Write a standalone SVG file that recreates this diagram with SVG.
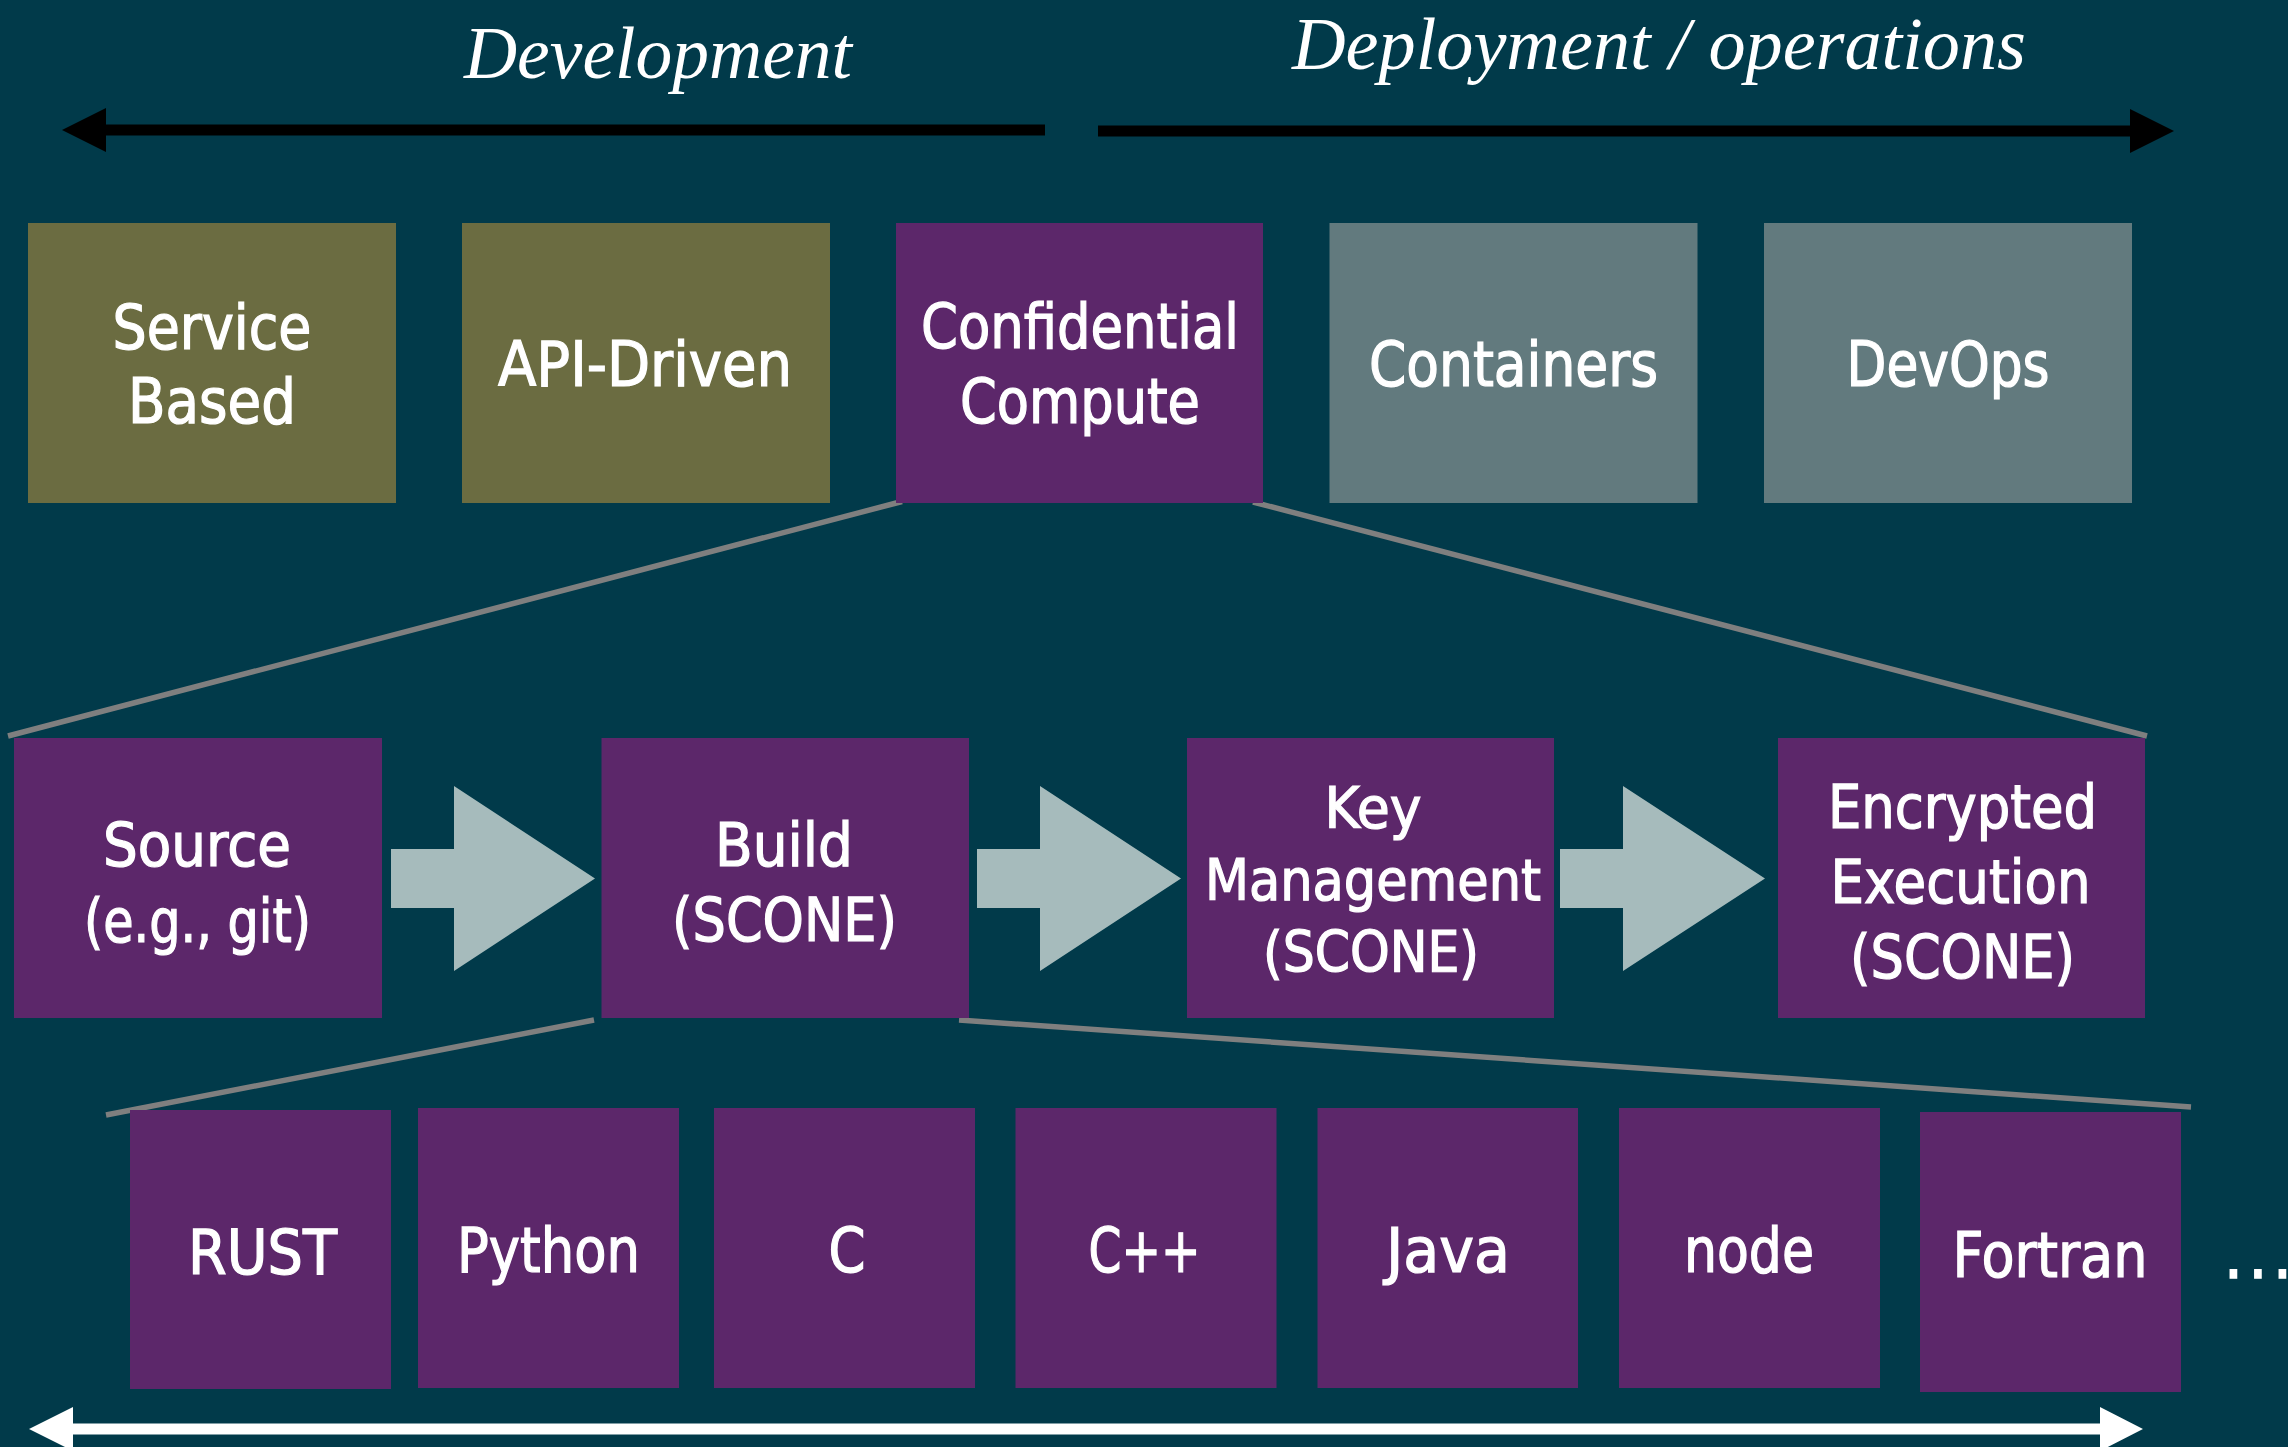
<svg xmlns="http://www.w3.org/2000/svg" width="2288" height="1447" viewBox="0 0 2288 1447">
<style>
  .bg{fill:#013a4a}
  .olive{fill:#6b6c41}
  .purple{fill:#5c276a}
  .grey{fill:#627a7e}
  .flow{fill:#a6bbbc}
  .lbl{font-family:"DejaVu Sans Condensed","DejaVu Sans",sans-serif;font-stretch:condensed;font-weight:normal;fill:#ffffff;stroke:#ffffff;stroke-width:1.2;text-anchor:middle}
  .s62{font-size:62px}
  .s61{font-size:61px}
  .s57{font-size:57px}
  .title{font-family:"Liberation Serif","Times New Roman",serif;font-style:italic;font-size:75px;fill:#ffffff}
  .conn{stroke:#7f7f7f;stroke-width:5.5;fill:none}
</style>
<rect class="bg" x="0" y="0" width="2288" height="1447"/>

<g id="phase-labels">
  <text class="title" x="464" y="78" textLength="388" lengthAdjust="spacingAndGlyphs">Development</text>
  <text class="title" x="1292" y="69" textLength="734" lengthAdjust="spacingAndGlyphs">Deployment / operations</text>
</g>

<g id="timeline-arrows">
  <polygon fill="#000000" points="1045,124.5 106,124.5 106,108 62,130 106,152 106,135.5 1045,135.5"/>
  <polygon fill="#000000" points="1098,125.5 2130,125.5 2130,109 2174,131 2130,153 2130,136.5 1098,136.5"/>
  <polygon fill="#ffffff" points="73,1423.5 2100,1423.5 2100,1407 2143,1429 2100,1451 2100,1434.5 73,1434.5 73,1451 29,1429 73,1407"/>
</g>

<g id="connectors">
  <line class="conn" x1="902" y1="501.5" x2="8" y2="736"/>
  <line class="conn" x1="1253" y1="502" x2="2147" y2="736"/>
  <line class="conn" x1="594" y1="1020" x2="106" y2="1115"/>
  <line class="conn" x1="959" y1="1020" x2="2191" y2="1107"/>
  <polygon class="flow" points="391,849 454,849 454,786 595,878.5 454,971 454,908 391,908"/>
  <polygon class="flow" points="977,849 1040,849 1040,786 1181,878.5 1040,971 1040,908 977,908"/>
  <polygon class="flow" points="1560,849 1623,849 1623,786 1765,878.5 1623,971 1623,908 1560,908"/>
</g>

<g id="node-service-based">
  <rect class="olive" x="28" y="223" width="368" height="280"/>
  <text class="lbl s62" x="212" y="349" textLength="199" lengthAdjust="spacingAndGlyphs">Service</text>
  <text class="lbl s62" x="212" y="423" textLength="168" lengthAdjust="spacingAndGlyphs">Based</text>
</g>
<g id="node-api-driven">
  <rect class="olive" x="462" y="223" width="368" height="280"/>
  <text class="lbl s62" x="645" y="386" textLength="294" lengthAdjust="spacingAndGlyphs">API-Driven</text>
</g>
<g id="node-confidential-compute">
  <rect class="purple" x="896" y="223" width="367" height="280"/>
  <text class="lbl s62" x="1080" y="348" textLength="318" lengthAdjust="spacingAndGlyphs">Confidential</text>
  <text class="lbl s62" x="1080" y="423" textLength="240" lengthAdjust="spacingAndGlyphs">Compute</text>
</g>
<g id="node-containers">
  <rect class="grey" x="1329.5" y="223" width="368" height="280"/>
  <text class="lbl s62" x="1513.5" y="386" textLength="289" lengthAdjust="spacingAndGlyphs">Containers</text>
</g>
<g id="node-devops">
  <rect class="grey" x="1764" y="223" width="368" height="280"/>
  <text class="lbl s62" x="1948" y="386" textLength="203" lengthAdjust="spacingAndGlyphs">DevOps</text>
</g>

<g id="node-source">
  <rect class="purple" x="14" y="738" width="368" height="280"/>
  <text class="lbl s61" x="197" y="866" textLength="188" lengthAdjust="spacingAndGlyphs">Source</text>
  <text class="lbl s61" x="197.5" y="942" textLength="227" lengthAdjust="spacingAndGlyphs">(e.g., git)</text>
</g>
<g id="node-build">
  <rect class="purple" x="601.5" y="738" width="367.5" height="280"/>
  <text class="lbl s61" x="784" y="866" textLength="138" lengthAdjust="spacingAndGlyphs">Build</text>
  <text class="lbl s61" x="784.5" y="941" textLength="225" lengthAdjust="spacingAndGlyphs">(SCONE)</text>
</g>
<g id="node-key-management">
  <rect class="purple" x="1187" y="738" width="367" height="280"/>
  <text class="lbl s57" x="1373" y="828" textLength="97" lengthAdjust="spacingAndGlyphs">Key</text>
  <text class="lbl s57" x="1373" y="900" textLength="336" lengthAdjust="spacingAndGlyphs">Management</text>
  <text class="lbl s57" x="1371" y="972" textLength="216" lengthAdjust="spacingAndGlyphs">(SCONE)</text>
</g>
<g id="node-encrypted-execution">
  <rect class="purple" x="1778" y="738" width="367" height="280"/>
  <text class="lbl s61" x="1962.5" y="828" textLength="269" lengthAdjust="spacingAndGlyphs">Encrypted</text>
  <text class="lbl s61" x="1960.5" y="903" textLength="260" lengthAdjust="spacingAndGlyphs">Execution</text>
  <text class="lbl s61" x="1962.5" y="978" textLength="225" lengthAdjust="spacingAndGlyphs">(SCONE)</text>
</g>

<g id="node-rust">
  <rect class="purple" x="130" y="1110" width="261" height="279"/>
  <text class="lbl s62" x="262.5" y="1274" textLength="149" lengthAdjust="spacingAndGlyphs">RUST</text>
</g>
<g id="node-python">
  <rect class="purple" x="418" y="1108" width="261" height="280"/>
  <text class="lbl s62" x="548.5" y="1272" textLength="183" lengthAdjust="spacingAndGlyphs">Python</text>
</g>
<g id="node-c">
  <rect class="purple" x="714" y="1108" width="261" height="280"/>
  <text class="lbl s62" x="847" y="1272" textLength="37" lengthAdjust="spacingAndGlyphs">C</text>
</g>
<g id="node-cpp">
  <rect class="purple" x="1015.5" y="1108" width="261" height="280"/>
  <text class="lbl s62" x="1144.5" y="1272" textLength="112" lengthAdjust="spacingAndGlyphs">C++</text>
</g>
<g id="node-java">
  <rect class="purple" x="1317.5" y="1108" width="260.5" height="280"/>
  <text class="lbl s62" x="1448" y="1272" textLength="124" lengthAdjust="spacingAndGlyphs">Java</text>
</g>
<g id="node-node">
  <rect class="purple" x="1619" y="1108" width="261" height="280"/>
  <text class="lbl s62" x="1749" y="1272" textLength="130" lengthAdjust="spacingAndGlyphs">node</text>
</g>
<g id="node-fortran">
  <rect class="purple" x="1920" y="1112" width="261" height="280"/>
  <text class="lbl s62" x="2050" y="1277" textLength="195" lengthAdjust="spacingAndGlyphs">Fortran</text>
</g>
<g id="ellipsis">
  <text x="2224 2248.5 2273" y="1278" style="font-family:'DejaVu Sans Condensed','DejaVu Sans',sans-serif;font-size:66px;fill:#ffffff;stroke:#ffffff;stroke-width:1.5">...</text>
</g>
</svg>
